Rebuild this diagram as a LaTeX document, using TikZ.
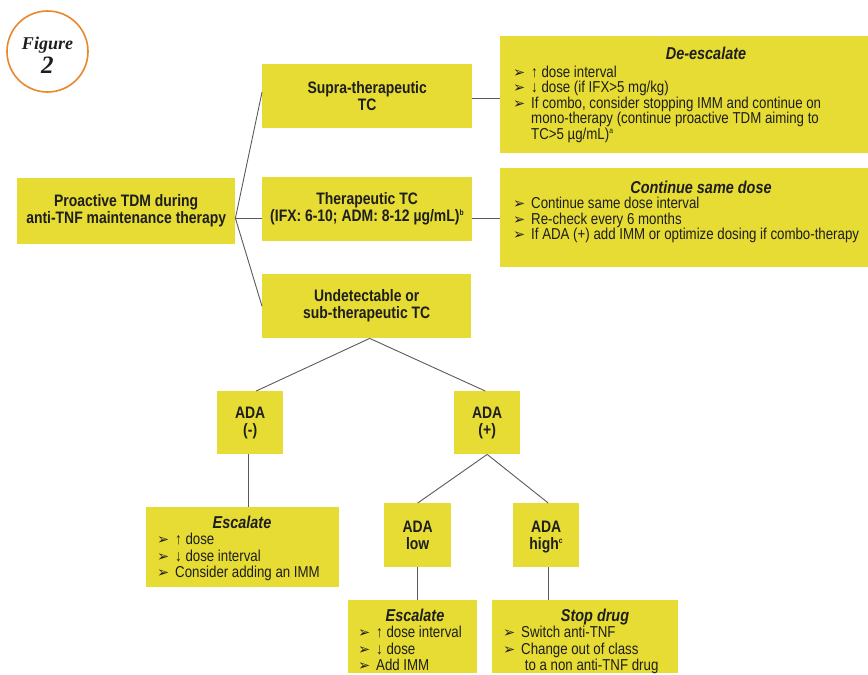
\documentclass[tikz,border=0pt]{standalone}
\usepackage{fontspec}
\setmainfont{Liberation Sans}[FakeStretch=0.84]
\newfontfamily\bulfont{DejaVu Sans}
\newfontfamily\figfont{Liberation Serif}
\definecolor{yel}{HTML}{E6DC34}
\definecolor{lin}{HTML}{5A5A5A}
\definecolor{txt}{HTML}{1E1E1E}
\definecolor{orng}{HTML}{E8872C}
\newcommand{\bl}{\makebox[18pt][l]{\bulfont\fontsize{14.5}{14}\selectfont ➢}}
\newcommand{\ind}{\hspace*{18pt}}
\newcommand{\boldlbl}{\bfseries\fontsize{16.6}{17}\selectfont}
\newcommand{\ttlfont}{\bfseries\itshape\fontsize{17.2}{17}\selectfont}
\newcommand{\bodyfont}{\fontsize{15.8}{15.5}\selectfont}
\newcommand{\bodyfontb}{\fontsize{15.8}{16.5}\selectfont}
\newcommand{\sps}[1]{\smash{\textsuperscript{\fontsize{8}{8}\selectfont #1}}}
\newcommand{\nodepth}[1]{\raisebox{0pt}[\height][0pt]{#1}}
\begin{document}
\begin{tikzpicture}[x=1pt,y=-1pt,
  box/.style={fill=yel, draw=none, inner sep=0pt, anchor=north west, align=center, font=\boldlbl, text=txt},
  ln/.style={draw=lin, line width=0.9pt},
  ttl/.style={font=\ttlfont, text=txt, inner sep=0pt, anchor=base},
  body/.style={font=\bodyfont, text=txt, align=left, inner sep=0pt, anchor=north west},
  bodyb/.style={font=\bodyfontb, text=txt, align=left, inner sep=0pt, anchor=north west}]
\useasboundingbox (0,0) rectangle (868,675);
% figure label
\node[draw=orng, line width=1.6pt, circle, minimum size=81pt, inner sep=0pt] (fig) at (47.5,51.5) {};
\node[text=txt, inner sep=0pt, anchor=base, font=\figfont\bfseries\itshape\fontsize{18}{18}\selectfont] (figt) at (47.5,49) {Figure};
\node[text=txt, inner sep=0pt, anchor=base, font=\figfont\bfseries\itshape\fontsize{25}{25}\selectfont] (fign) at (47.5,73) {2};
% main boxes
\node[box, minimum width=218pt, minimum height=66pt] (root) at (17,178) {Proactive TDM during\\anti-TNF maintenance therapy};
\node[box, minimum width=210pt, minimum height=64pt] (supra) at (262,64) {Supra-therapeutic\\TC};
\node[box, minimum width=210pt, minimum height=64pt] (ther) at (262,177) {Therapeutic TC\\(IFX: 6-10; ADM: 8-12 µg/mL)\sps{b}};
\node[box, minimum width=209pt, minimum height=64pt] (und) at (262,274) {Undetectable or\\sub-therapeutic TC};
\node[box, minimum width=368pt, minimum height=117pt] (desc) at (500,36) {};
\node[box, minimum width=368pt, minimum height=99pt] (cont) at (500,168) {};
\node[box, minimum width=66pt, minimum height=63pt] (adam) at (217,391) {ADA\\(-)};
\node[box, minimum width=66pt, minimum height=63pt] (adap) at (454,391) {ADA\\(+)};
\node[box, minimum width=193pt, minimum height=80pt] (esc1) at (146,507) {};
\node[box, minimum width=67pt, minimum height=64pt] (low) at (384,503) {ADA\\low};
\node[box, minimum width=66pt, minimum height=64pt] (high) at (513,503) {ADA\\\nodepth{high}\sps{c}};
\node[box, minimum width=129pt, minimum height=73pt] (esc2) at (348,600) {};
\node[box, minimum width=186pt, minimum height=73pt] (stop) at (492,600) {};
% right box texts
\node[ttl] (descT) at (706,59) {De-escalate};
\node[body] (descB) at (513,65.5) {\bl↑ dose interval\\\bl↓ dose (if IFX>5 mg/kg)\\\bl If combo, consider stopping IMM and continue on\\\ind mono-therapy (continue proactive TDM aiming to\\\ind TC>5 µg/mL)\sps{a}};
\node[ttl] (contT) at (701,193) {Continue same dose};
\node[body] (contB) at (513,197) {\bl Continue same dose interval\\\bl Re-check every 6 months\\\bl If ADA (+) add IMM or optimize dosing if combo-therapy};
% bottom box texts
\node[ttl] (esc1T) at (242,528) {Escalate};
\node[bodyb] (esc1B) at (157,533) {\bl↑ dose\\\bl↓ dose interval\\\bl Consider adding an IMM};
\node[ttl] (esc2T) at (415,621) {Escalate};
\node[bodyb] (esc2B) at (358,626) {\bl↑ dose interval\\\bl↓ dose\\\bl Add IMM};
\node[ttl] (stopT) at (595,621) {Stop drug};
\node[bodyb] (stopB) at (503,626) {\bl Switch anti-TNF\\\bl Change out of class\\\ind\ to a non anti-TNF drug};
% connectors
\coordinate (j0) at ([yshift=-7pt]root.east);
\draw[ln] (j0) -- ([yshift=4pt]supra.west);
\draw[ln] (j0) -- ([yshift=-9pt]ther.west);
\draw[ln] (j0) -- (und.west);
\draw[ln] ([yshift=-2pt]supra.east) -- ([yshift=-2pt]supra.east -| desc.west);
\draw[ln] ([yshift=-9pt]ther.east) -- ([yshift=-9pt]ther.east -| cont.west);
\draw[ln] ([xshift=3pt]und.south) -- ([xshift=6pt]adam.north);
\draw[ln] ([xshift=3pt]und.south) -- ([xshift=-2pt]adap.north);
\draw[ln] (adap.south) -- (low.north);
\draw[ln] (adap.south) -- ([xshift=2pt]high.north);
\draw[ln] ([xshift=-2pt]adam.south) -- ([xshift=-2pt]adam.south |- esc1.north);
\draw[ln] (low.south) -- (low.south |- esc2.north);
\draw[ln] ([xshift=2pt]high.south) -- ([xshift=2pt]high.south |- stop.north);
\end{tikzpicture}
\end{document}
